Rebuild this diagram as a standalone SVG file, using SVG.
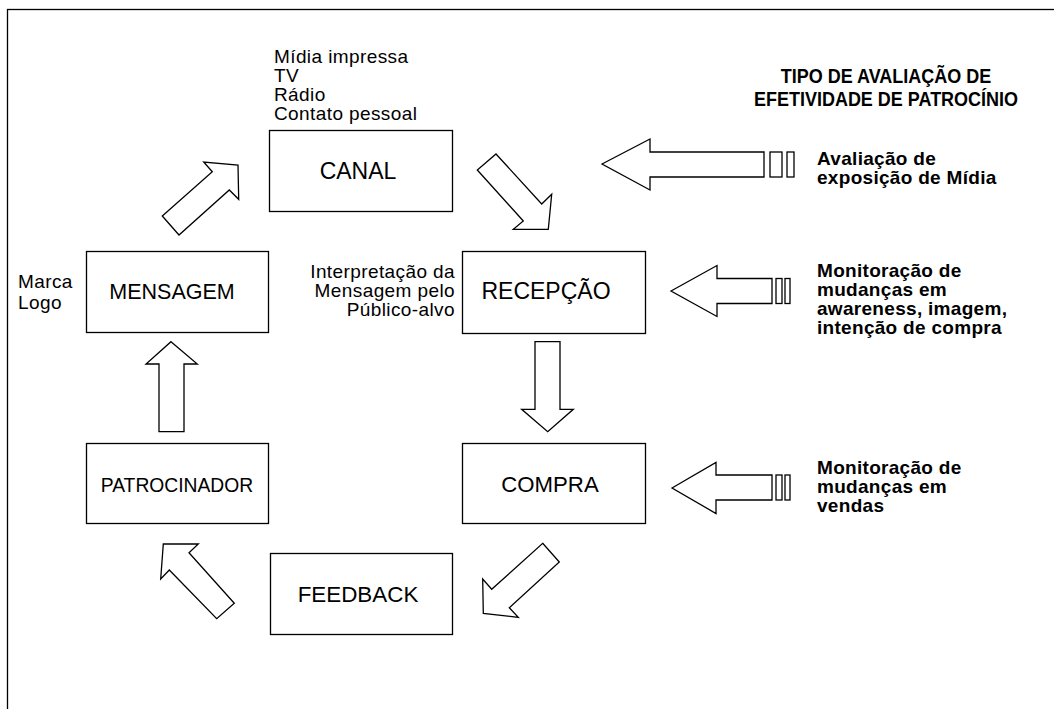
<svg xmlns="http://www.w3.org/2000/svg" width="1054" height="709" viewBox="0 0 1054 709">
<style>
.box{fill:#fff;stroke:#000;stroke-width:1.3}
.arr{fill:#fff;stroke:#000;stroke-width:1.3;stroke-linejoin:miter}
.lbl{font-family:"Liberation Sans",Arial,sans-serif;fill:#000;text-anchor:middle}
.note{font-family:"Liberation Sans",Arial,sans-serif;font-size:19px;fill:#000;letter-spacing:0.4px}
.bold{font-family:"Liberation Sans",Arial,sans-serif;font-size:19px;font-weight:bold;fill:#000;letter-spacing:0.3px}
</style>
<rect width="1054" height="709" fill="#fff"/>
<rect x="7.5" y="9.5" width="1070" height="720" fill="none" stroke="#000" stroke-width="1.3"/>

<g id="canal">
<rect class="box" x="269.5" y="130.5" width="183" height="81"/>
<text class="lbl" x="358" y="179" font-size="23">CANAL</text>
</g>
<g id="canal-notes">
<text class="note" x="274" y="63">Mídia impressa</text>
<text class="note" x="274" y="82">TV</text>
<text class="note" x="274" y="101">Rádio</text>
<text class="note" x="274" y="120">Contato pessoal</text>
</g>
<g id="mensagem">
<rect class="box" x="86.5" y="251.5" width="182" height="81"/>
<text class="lbl" x="172" y="299" font-size="21.5">MENSAGEM</text>
</g>
<g id="mensagem-notes">
<text class="note" x="18" y="288">Marca</text>
<text class="note" x="18" y="309">Logo</text>
</g>
<g id="recepcao">
<rect class="box" x="462.5" y="251.5" width="183" height="82"/>
<text class="lbl" x="546" y="299" font-size="23">RECEPÇÃO</text>
</g>
<g id="recepcao-notes">
<text class="note" x="455" y="278" text-anchor="end">Interpretação da</text>
<text class="note" x="455" y="297" text-anchor="end">Mensagem pelo</text>
<text class="note" x="455" y="316" text-anchor="end">Público-alvo</text>
</g>
<g id="patrocinador">
<rect class="box" x="86.5" y="443.5" width="182" height="80"/>
<text class="lbl" x="177" y="492" font-size="19.3">PATROCINADOR</text>
</g>
<g id="compra">
<rect class="box" x="462.5" y="443.5" width="183" height="80"/>
<text class="lbl" x="550" y="492" font-size="22.2">COMPRA</text>
</g>
<g id="feedback">
<rect class="box" x="270.5" y="553.5" width="182" height="81"/>
<text class="lbl" x="358" y="602" font-size="22.4">FEEDBACK</text>
</g>

<g id="heading">
<text class="bold" text-anchor="middle" transform="translate(886,83) scale(1,1.15)" style="font-size:18px;letter-spacing:0"><tspan x="0" y="0">TIPO DE AVALIAÇÃO DE</tspan><tspan x="0" dy="20">EFETIVIDADE DE PATROCÍNIO</tspan></text>
</g>
<g id="eval-midia">
<text class="bold" x="817" y="165">Avaliação de</text>
<text class="bold" x="817" y="184">exposição de Mídia</text>
</g>
<g id="eval-awareness">
<text class="bold" x="817" y="277">Monitoração de</text>
<text class="bold" x="817" y="296">mudanças em</text>
<text class="bold" x="817" y="315">awareness, imagem,</text>
<text class="bold" x="817" y="334">intenção de compra</text>
</g>
<g id="eval-vendas">
<text class="bold" x="817" y="474">Monitoração de</text>
<text class="bold" x="817" y="493">mudanças em</text>
<text class="bold" x="817" y="512">vendas</text>
</g>

<g id="connectors">
<polygon class="arr" points="162.3,216 212.3,171.7 203.7,162 238,165 238.7,199.3 229.3,190 179,235"/>
<polygon class="arr" points="496,154 541.7,204 551.7,194.3 548.3,229.3 513.3,229.3 523.3,221 477.3,170"/>
<polygon class="arr" points="535,341.7 560,341.7 560,409.3 573.3,409.3 547.7,431.7 521.7,409.3 535,409.3"/>
<polygon class="arr" points="542.7,543.3 559.3,562 509.3,607.7 518.3,617.3 483.3,613.3 482.7,579 491.7,589.3"/>
<polygon class="arr" points="163.3,544 198.3,544 189,552.7 234.3,603.3 216.7,618.7 169.3,570 160.7,579"/>
<polygon class="arr" points="171,341.7 197.3,364 184,364 184,431.7 159,431.7 159,364 146,364"/>

<polygon class="arr" points="602,164 650,139 650,152 764,152 764,177 650,177 650,190"/>
<rect class="arr" x="770" y="152" width="12" height="25"/>
<rect class="arr" x="787" y="152" width="7" height="25"/>

<polygon class="arr" points="671,291 717,265.5 717,278.5 772,278.5 772,303.5 717,303.5 717,316.5"/>
<rect class="arr" x="776" y="278.5" width="6" height="25"/>
<rect class="arr" x="785" y="278.5" width="5" height="25"/>

<polygon class="arr" points="672,488 716,462.5 716,475 772,475 772,500 716,500 716,513.5"/>
<rect class="arr" x="776" y="475" width="6" height="25"/>
<rect class="arr" x="785" y="475" width="5" height="25"/>
</g>
</svg>
